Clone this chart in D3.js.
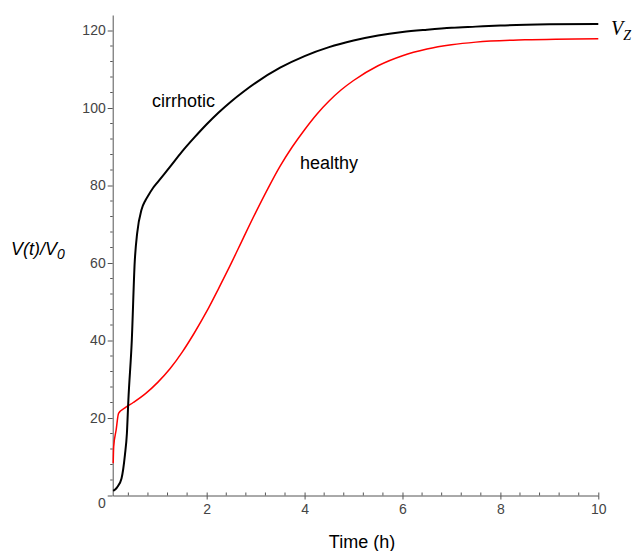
<!DOCTYPE html>
<html>
<head>
<meta charset="utf-8">
<script src="https://cdn.jsdelivr.net/npm/d3@7"></script>
<style>
  body { margin: 0; background: #fff; }
  text { font-family: "Liberation Sans", Arial, sans-serif; }
</style>
</head>
<body>
<div id="chart"></div>
<script>
var width = 635,
    height = 551;

// cirrhotic liver (black)
var cirrhoticT = [0.09, 0.17, 0.26, 0.33, 0.37, 0.40, 0.47, 0.53, 0.58, 0.67, 0.75, 0.81, 0.9, 1.0, 1.25, 1.5, 1.75, 2.0, 2.25, 2.5, 2.75, 3.0, 3.5, 4.0, 4.5, 5.0, 5.5, 6.0, 6.5, 7.0, 7.5, 8.0, 9.0, 10];
var cirrhoticV = [1.2, 2.1, 4.4, 10.5, 16, 24.6, 40, 60.3, 67.7, 73.8, 76.2, 77.5, 79.3, 80.9, 84.8, 88.8, 92.4, 95.8, 98.9, 101.7, 104.2, 106.5, 110.4, 113.4, 115.7, 117.4, 118.7, 119.6, 120.2, 120.7, 121.0, 121.3, 121.6, 121.7];

// healthy liver (red)
var healthyT = [0.09, 0.10, 0.15, 0.20, 0.33, 0.5, 0.75, 1.0, 1.25, 1.5, 1.75, 2.0, 2.25, 2.5, 2.75, 3.0, 3.25, 3.5, 3.75, 4.0, 4.25, 4.5, 4.75, 5.0, 5.5, 6.0, 6.5, 7.0, 7.5, 8.5, 10];
var healthyV = [8.3, 12.6, 16.9, 21.2, 22.6, 24.0, 26.3, 29.2, 32.7, 37.0, 42.0, 47.5, 53.6, 59.9, 66.5, 73.0, 79.2, 85.0, 90.0, 94.4, 98.4, 101.8, 104.7, 107.1, 110.9, 113.5, 115.2, 116.3, 117.0, 117.6, 117.9];

var xTicks = [2, 4, 6, 8, 10];
var yTicks = [0, 20, 40, 60, 80, 100, 120];

var svg = d3.select("#chart")
    .append("svg")
    .attr("width", width)
    .attr("height", height);

var x = d3.scaleLinear()
    .domain([0.08, 10])
    .range([112.7, 598.3]);

var y = d3.scaleLinear()
    .domain([0, 124])
    .range([495.5, 15]);

var axisColor = "#555";

// minor ticks
var xMinor = d3.range(0.4, 10, 0.4).filter(function(d) { return xTicks.indexOf(Math.round(d * 10) / 10) < 0; });
var yMinor = d3.range(4, 124, 4).filter(function(d) { return d % 20 != 0; });

var gx = svg.append("g")
    .attr("transform", "translate(0," + y(0) + ")")
    .call(d3.axisBottom(x).tickValues(xTicks).tickSize(4).tickSizeOuter(0).tickFormat(d3.format("d")));

gx.selectAll(".tick").append("line")
    .attr("y1", -3).attr("y2", 0)
    .attr("stroke", axisColor);

gx.selectAll(".minor")
    .data(xMinor)
    .enter().append("line")
    .attr("class", "minor")
    .attr("x1", function(d) { return x(d); })
    .attr("x2", function(d) { return x(d); })
    .attr("y1", -3)
    .attr("y2", 0)
    .attr("stroke", axisColor);

var gy = svg.append("g")
    .attr("transform", "translate(" + x.range()[0] + ",0)")
    .call(d3.axisLeft(y).tickValues(yTicks).tickSize(5).tickSizeOuter(0).tickFormat(d3.format("d")));

gy.selectAll(".minor")
    .data(yMinor)
    .enter().append("line")
    .attr("class", "minor")
    .attr("x1", -2.5)
    .attr("x2", 0)
    .attr("y1", function(d) { return y(d); })
    .attr("y2", function(d) { return y(d); })
    .attr("stroke", axisColor);

svg.selectAll(".domain, .tick line").attr("stroke", axisColor);
svg.selectAll(".tick text")
    .attr("fill", "#444")
    .style("font-size", "14px")
    .style("font-family", "Liberation Sans, Arial, sans-serif");

gx.selectAll(".tick text").attr("dy", "0.8em");
gy.selectAll(".tick text").attr("x", -7);
// Maple drops the origin label a little
gy.selectAll(".tick text").filter(function(d) { return d === 0; }).attr("dy", "0.85em");

var line = d3.line()
    .x(function(d) { return x(d[0]); })
    .y(function(d) { return y(d[1]); })
    .curve(d3.curveMonotoneX);

var cirrhotic = d3.zip(cirrhoticT, cirrhoticV);
var healthy = d3.zip(healthyT, healthyV);

svg.append("path")
    .datum(healthy)
    .attr("d", line)
    .attr("fill", "none")
    .attr("stroke", "#ff0000")
    .attr("stroke-width", 1.5);

svg.append("path")
    .datum(cirrhotic)
    .attr("d", line)
    .attr("fill", "none")
    .attr("stroke", "#000")
    .attr("stroke-width", 2);

// labels
svg.append("text")
    .attr("x", 152)
    .attr("y", 106.5)
    .style("font-size", "18px")
    .text("cirrhotic");

svg.append("text")
    .attr("x", 300)
    .attr("y", 169)
    .style("font-size", "18px")
    .text("healthy");

var vz = svg.append("text")
    .attr("x", 611)
    .attr("y", 35)
    .style("font-family", "Liberation Serif, Times New Roman, serif")
    .style("font-style", "italic")
    .style("font-size", "20px");
vz.append("tspan").text("V");
vz.append("tspan").attr("dy", 5).style("font-size", "14px").text("Z");

var yl = svg.append("text")
    .attr("x", 11)
    .attr("y", 255)
    .style("font-style", "italic")
    .style("font-size", "18px");
yl.append("tspan").text("V(");
yl.append("tspan").text("t");
yl.append("tspan").text(")/V");
yl.append("tspan").attr("dy", 4).style("font-size", "14px").text("0");

svg.append("text")
    .attr("x", 362)
    .attr("y", 548)
    .attr("text-anchor", "middle")
    .style("font-size", "18px")
    .text("Time (h)");
</script>
</body>
</html>
